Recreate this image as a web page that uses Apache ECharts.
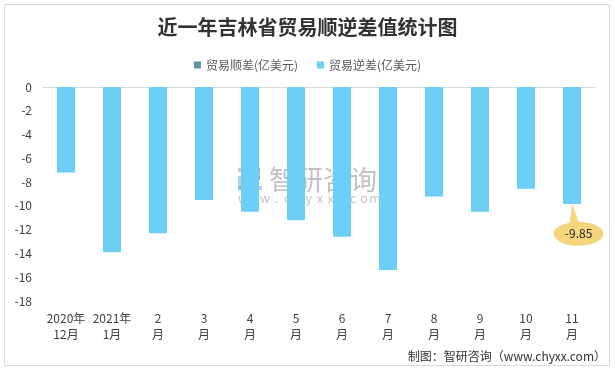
<!DOCTYPE html>
<html>
<head>
<meta charset="utf-8">
<script src="https://cdn.jsdelivr.net/npm/echarts@6/dist/echarts.min.js"></script>
<style>
html,body{margin:0;padding:0;background:#fff;}
#chart{width:615px;height:371px;}
</style>
</head>
<body>
<div id="chart"></div>
<script>
var categories = ['2020年\n12月','2021年\n1月','2\n月','3\n月','4\n月','5\n月','6\n月','7\n月','8\n月','9\n月','10\n月','11\n月'];
var surplus = [0,0,0,0,0,0,0,0,0,0,0,0];
var deficit = [-7.2,-13.9,-12.3,-9.5,-10.5,-11.2,-12.6,-15.4,-9.2,-10.5,-8.55,-9.85];
var yTicks = {min:-18, max:0, interval:2};
var seriesNames = ['贸易顺差(亿美元)','贸易逆差(亿美元)'];
var titleText = '近一年吉林省贸易顺逆差值统计图';
var footerText = '制图：智研咨询（www.chyxx.com）';
var watermarkName = '智研咨询';
var watermarkUrl = 'www.chyxx.com';

var FONT = '"Noto Sans CJK SC", "Noto Sans", sans-serif';
var chart = echarts.init(document.getElementById('chart'), null, {renderer:'canvas'});
var lastIdx = deficit.length - 1;

var wmFill = 'rgba(120,120,120,0.45)';
var watermark = [
  {type:'rect', shape:{x:238,y:168,width:22,height:4}, style:{fill:'rgba(110,120,135,0.4)'}},
  {type:'rect', shape:{x:256,y:168,width:4,height:12}, style:{fill:'rgba(110,120,135,0.4)'}},
  {type:'rect', shape:{x:245,y:176,width:15,height:4}, style:{fill:'rgba(110,120,135,0.4)'}},
  {type:'rect', shape:{x:238,y:176,width:5,height:14}, style:{fill:'rgba(90,140,190,0.4)'}},
  {type:'rect', shape:{x:238,y:186,width:24,height:4}, style:{fill:'rgba(90,140,190,0.4)'}},
  {type:'text', style:{x:269, y:180, text:watermarkName, fill:wmFill, font:'27px ' + FONT, verticalAlign:'middle'}}
];
watermarkUrl.split('').forEach(function(ch, i){
  watermark.push({type:'text', style:{x:243 + i*11, y:198, text:ch, fill:wmFill, font:'13px ' + FONT, align:'center', verticalAlign:'middle'}});
});

var option = {
  backgroundColor:'#fff',
  animation:false,
  textStyle:{fontFamily:FONT},
  title:{
    text:titleText, left:'center', top:12,
    textStyle:{fontFamily:FONT, fontSize:20, fontWeight:'bold', color:'#333'}
  },
  legend:{
    top:54, left:'center', itemWidth:7, itemHeight:7, itemGap:19,
    icon:'rect',
    textStyle:{fontFamily:FONT, fontSize:12, color:'#595959'},
    data:seriesNames
  },
  grid:{left:43, right:20, top:87, bottom:70, containLabel:false},
  xAxis:[{
    type:'category', data:categories, position:'bottom',
    axisLine:{show:false}, axisTick:{show:false},
    axisLabel:{interval:0, color:'#404040', fontSize:12, lineHeight:16, margin:9, fontFamily:FONT}
  },{
    type:'category', data:categories, position:'top',
    axisLine:{show:true, onZero:false, lineStyle:{color:'#d9d9d9', width:1}},
    axisTick:{show:false}, axisLabel:{show:false}
  }],
  yAxis:{
    type:'value', min:yTicks.min, max:yTicks.max, interval:yTicks.interval,
    axisLine:{show:false}, axisTick:{show:false}, splitLine:{show:false},
    axisLabel:{color:'#404040', fontSize:12, margin:11, fontFamily:FONT}
  },
  series:[{
    name:seriesNames[0], type:'bar', data:surplus, barWidth:18, barGap:'-100%',
    itemStyle:{color:'#5E93A8'}
  },{
    name:seriesNames[1], type:'bar', data:deficit, barWidth:18,
    itemStyle:{color:'#6BCFF6'},
    markPoint:{
      symbol:'path://M18.4 0 L24.4 17.8 A25 12 0 1 1 15.7 18.6 Z',
      symbolSize:[50,41.7],
      symbolOffset:[6.6,20.85],
      itemStyle:{color:'#F6D47C'},
      label:{show:true, formatter:'{c}', color:'#262626', fontSize:12, offset:[0,8.85], fontFamily:FONT},
      data:[{coord:[categories[lastIdx], deficit[lastIdx]], value:deficit[lastIdx]}]
    }
  }],
  graphic:[
    {type:'rect', shape:{x:4.5,y:4.5,width:605,height:361}, style:{fill:'none', stroke:'#d9d9d9', lineWidth:1}, silent:true, z:-1},
    {type:'group', silent:true, z:100, children:watermark},
    {type:'text', right:9, top:350, style:{text:footerText, fill:'#333', font:'12px ' + FONT}, silent:true}
  ]
};
chart.setOption(option);
</script>
</body>
</html>
